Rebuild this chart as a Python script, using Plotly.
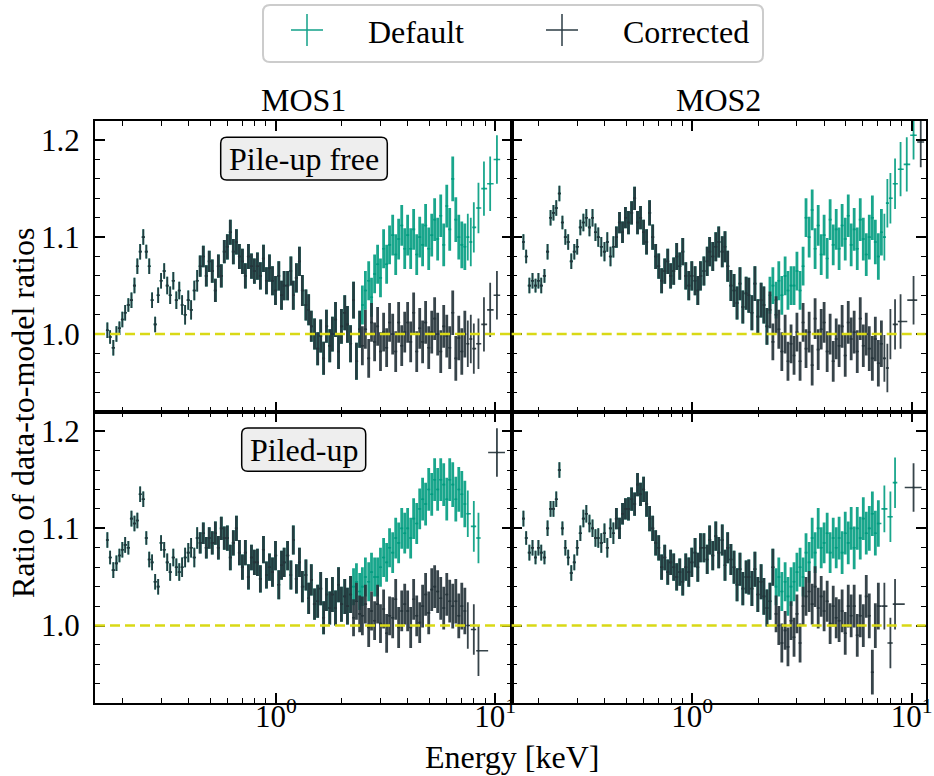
import plotly.graph_objects as go

# ---------------- data ----------------
energy_kev = [
    0.170, 0.175, 0.181, 0.187, 0.193,
    0.199, 0.205, 0.212, 0.219, 0.226,
    0.233, 0.240, 0.248, 0.256, 0.264,
    0.272, 0.281, 0.290, 0.299, 0.309,
    0.319, 0.329, 0.340, 0.351, 0.362,
    0.373, 0.385, 0.398, 0.410, 0.424,
    0.437, 0.451, 0.466, 0.481, 0.496,
    0.512, 0.529, 0.546, 0.563, 0.581,
    0.600, 0.619, 0.639, 0.660, 0.681,
    0.703, 0.725, 0.749, 0.773, 0.797,
    0.823, 0.849, 0.877, 0.905, 0.934,
    0.964, 0.995, 1.03, 1.06, 1.09,
    1.13, 1.17, 1.20, 1.24, 1.28,
    1.32, 1.37, 1.41, 1.45, 1.50,
    1.55, 1.60, 1.65, 1.70, 1.76,
    1.81, 1.87, 1.93, 1.99, 2.06,
    2.12, 2.19, 2.26, 2.33, 2.41,
    2.48, 2.56, 2.65, 2.73, 2.82,
    2.91, 3.00, 3.10, 3.20, 3.30,
    3.41, 3.52, 3.63, 3.75, 3.87,
    3.99, 4.12, 4.25, 4.39, 4.53,
    4.67, 4.82, 4.98, 5.14, 5.30,
    5.47, 5.65, 5.83, 6.02, 6.21,
    6.41, 6.62, 6.83, 7.05, 7.28,
    7.51, 7.75, 8.00, 8.40, 8.90,
    9.50, 10.2, 11.0,
]

ratio_err = [
    0.008, 0.007, 0.008, 0.008, 0.007,
    0.008, 0.008, 0.007, 0.008, 0.008,
    0.008, 0.008, 0.008, 0.007, 0.008,
    0.008, 0.008, 0.008, 0.008, 0.008,
    0.009, 0.009, 0.009, 0.009, 0.009,
    0.010, 0.010, 0.010, 0.010, 0.010,
    0.011, 0.011, 0.011, 0.011, 0.011,
    0.012, 0.012, 0.012, 0.012, 0.012,
    0.013, 0.013, 0.013, 0.013, 0.013,
    0.013, 0.013, 0.013, 0.013, 0.013,
    0.014, 0.014, 0.014, 0.014, 0.014,
    0.015, 0.015, 0.015, 0.015, 0.015,
    0.015, 0.015, 0.015, 0.015, 0.015,
    0.016, 0.016, 0.016, 0.016, 0.016,
    0.017, 0.017, 0.017, 0.017, 0.017,
    0.018, 0.018, 0.018, 0.018, 0.018,
    0.019, 0.019, 0.019, 0.019, 0.019,
    0.020, 0.020, 0.020, 0.020, 0.020,
    0.020, 0.020, 0.020, 0.020, 0.020,
    0.021, 0.021, 0.021, 0.021, 0.021,
    0.021, 0.021, 0.021, 0.021, 0.021,
    0.022, 0.022, 0.022, 0.022, 0.022,
    0.022, 0.022, 0.022, 0.022, 0.022,
    0.023, 0.023, 0.023, 0.024, 0.024,
    0.024, 0.025, 0.026, 0.026, 0.028,
    0.028, 0.025, 0.026,
]

# MOS1, pile-up free
mos1_free_corrected = [
    1.004, 0.997, 0.986, 1.000, 1.006,
    1.015, 1.022, 1.030, 1.035, 1.050,
    1.070, 1.085, 1.100, 1.085, 1.070,
    1.035, 1.010, 1.040, 1.055, 1.065,
    1.050, 1.040, 1.055, 1.035, 1.045,
    1.030, 1.020, 1.035, 1.025, 1.045,
    1.055, 1.070, 1.080, 1.060, 1.075,
    1.065, 1.045, 1.070, 1.060, 1.085,
    1.090, 1.105, 1.085, 1.095, 1.080,
    1.075, 1.060, 1.080, 1.070, 1.065,
    1.070, 1.060, 1.078, 1.055, 1.068,
    1.055, 1.045, 1.060, 1.040, 1.050,
    1.050, 1.065, 1.040, 1.058, 1.075,
    1.045, 1.030, 1.025, 1.008, 1.000,
    0.985, 0.998, 0.975, 1.008, 0.988,
    1.000, 1.015, 0.982, 1.008, 1.022,
    1.010, 0.990, 1.035, 0.972, 1.005,
    0.988, 1.005, 0.975, 1.012, 0.992,
    1.008, 0.982, 1.002, 0.986, 1.012,
    1.000, 0.982, 1.012, 0.988, 1.002,
    1.012, 0.992, 1.022, 0.982, 1.006,
    0.992, 1.012, 0.986, 1.002, 1.016,
    1.000, 0.982, 1.008, 0.998, 0.986,
    1.022, 0.975, 0.996, 0.982, 1.000,
    0.990, 0.995, 0.985, 0.990, 1.010,
    1.025, 1.040, None,
]
mos1_free_default_high = [  # from 2.48 keV upwards
    1.030, 1.045, 1.055, 1.038, 1.062,
    1.072, 1.058, 1.088, 1.072, 1.092,
    1.102, 1.082, 1.098, 1.112, 1.088,
    1.102, 1.088, 1.108, 1.082, 1.100,
    1.092, 1.112, 1.088, 1.102, 1.118,
    1.098, 1.122, 1.092, 1.132, 1.108,
    1.160, 1.118, 1.100, 1.092, 1.090,
    1.100, 1.095, 1.110, 1.130, 1.150,
    1.155, 1.180, None,
]

# MOS2, pile-up free
mos2_free_corrected = [
    1.095, 1.080, 1.050, 1.055, 1.050,
    1.055, 1.050, 1.060, 1.085, 1.120,
    1.125, 1.130, 1.145, 1.115, 1.100,
    1.095, 1.075, 1.085, 1.090, 1.110,
    1.115, 1.120, 1.110, 1.120, 1.105,
    1.100, 1.090, 1.085, 1.095, 1.080,
    1.090, 1.100, 1.115, 1.105, 1.120,
    1.115, 1.125, 1.140, 1.115, 1.120,
    1.105, 1.095, 1.125, 1.100, 1.080,
    1.070, 1.055, 1.065, 1.075, 1.060,
    1.065, 1.080, 1.070, 1.085, 1.060,
    1.050, 1.060, 1.055, 1.045, 1.060,
    1.065, 1.075, 1.085, 1.080, 1.090,
    1.095, 1.085, 1.090, 1.070, 1.050,
    1.045, 1.032, 1.052, 1.028, 1.042,
    1.040, 1.022, 1.052, 1.018, 1.035,
    1.030, 1.008, 1.025, 0.992, 1.020,
    1.005, 0.982, 1.000, 0.972, 0.990,
    0.978, 1.002, 0.972, 1.012, 0.985,
    1.002, 0.968, 1.016, 0.984, 1.005,
    1.012, 0.982, 1.000, 0.972, 0.995,
    0.988, 1.008, 0.978, 1.012, 0.995,
    1.002, 0.982, 1.016, 0.988, 1.000,
    0.985, 0.975, 0.995, 0.970, 0.990,
    0.975, 0.965, 1.000, 1.010, 1.013,
    None, 1.035, 1.198,
]
mos2_free_default_high = [  # from 2.26 keV upwards
    1.040, 1.050, 1.035,
    1.055, 1.040, 1.060, 1.045, 1.050,
    1.050, 1.065, 1.045, 1.070, 1.120,
    1.100, 1.128, 1.088, 1.112, 1.082,
    1.102, 1.078, 1.118, 1.092, 1.108,
    1.088, 1.112, 1.098, 1.122, 1.092,
    1.108, 1.088, 1.118, 1.098, 1.082,
    1.100, 1.120, 1.095, 1.080, 1.105,
    1.100, 1.135, 1.140, 1.155, 1.170,
    1.175, 1.205, None,
]

# MOS1, piled-up
mos1_piled_corrected = [
    1.088, 1.070, 1.057, 1.064, 1.072,
    1.078, 1.083, 1.080, 1.110, 1.105,
    1.108, 1.135, 1.130, 1.090, 1.068,
    1.065, 1.045, 1.040, 1.085, 1.078,
    1.065, 1.055, 1.070, 1.060, 1.055,
    1.060, 1.070, 1.075, 1.080, 1.070,
    1.090, 1.085, 1.095, 1.080, 1.090,
    1.085, 1.095, 1.080, 1.100, 1.090,
    1.090, 1.070, 1.085, 1.100, 1.075,
    1.060, 1.075, 1.050, 1.070, 1.065,
    1.065, 1.048, 1.078, 1.052, 1.060,
    1.055, 1.072, 1.042, 1.062, 1.065,
    1.072, 1.052, 1.088, 1.048, 1.065,
    1.040, 1.052, 1.028, 1.047, 1.022,
    1.025, 1.038, 1.008, 1.032, 1.018,
    1.032, 1.018, 1.042, 1.022, 1.030,
    1.020, 1.032, 1.008, 1.025, 1.012,
    1.010, 1.022, 0.998, 1.015, 1.005,
    1.022, 1.002, 1.017, 0.992, 1.010,
    1.008, 1.027, 0.998, 1.015, 1.022,
    1.015, 0.998, 1.027, 1.010, 1.003,
    1.020, 1.032, 1.013, 1.037, 1.040,
    1.035, 1.028, 1.018, 1.032, 1.025,
    1.020, 1.025, 1.010, 1.020, 1.015,
    1.000, None, 0.996, 0.974, None,
    None, 1.178, None,
]
mos1_piled_default_high = [  # from 2.26 keV upwards
    1.040, 1.045, 1.035,
    1.040, 1.050, 1.045, 1.055, 1.050,
    1.050, 1.060, 1.070, 1.065, 1.080,
    1.075, 1.090, 1.085, 1.100, 1.095,
    1.100, 1.090, 1.110, 1.105, 1.120,
    1.130, 1.125, 1.140, 1.135, 1.150,
    1.140, 1.150, 1.145, 1.130, 1.150,
    1.145, 1.130, 1.140, 1.135, 1.125,
    1.115, None, 1.102, 1.090, None,
    None, None, None,
]

# MOS2, piled-up
mos2_piled_corrected = [
    1.110, 1.090, 1.075, 1.080, 1.070,
    1.080, 1.075, 1.070, 1.100, 1.120,
    1.120, 1.130, 1.160, 1.100, 1.080,
    1.070, 1.054, 1.065, 1.080, 1.095,
    1.110, 1.115, 1.105, 1.100, 1.090,
    1.090, 1.085, 1.095, 1.080, 1.100,
    1.095, 1.110, 1.100, 1.115, 1.120,
    1.120, 1.130, 1.125, 1.145, 1.135,
    1.140, 1.125, 1.110, 1.100, 1.085,
    1.080, 1.060, 1.070, 1.055, 1.065,
    1.060, 1.050, 1.055, 1.045, 1.060,
    1.055, 1.065, 1.075, 1.060, 1.080,
    1.080, 1.068, 1.088, 1.072, 1.092,
    1.075, 1.088, 1.062, 1.080, 1.068,
    1.060, 1.042, 1.058, 1.038, 1.050,
    1.050, 1.038, 1.058, 1.032, 1.045,
    1.030, 1.018, 1.025, 1.060, 1.012,
    1.000, 0.982, 0.995, 0.978, 1.005,
    0.988, 1.012, 0.982, 1.020, 1.030,
    1.035, 1.022, 1.040, 1.018, 1.030,
    1.015, 1.025, 1.002, 1.020, 1.008,
    1.005, 1.015, 0.992, 1.020, 1.010,
    1.020, 0.990, 1.010, 1.000, 1.030,
    1.010, 0.952, 1.000, 1.020, None,
    1.020, None, 0.982, 1.022, None,
    None, 1.142, None,
]
mos2_piled_default_high = [  # from 2.33 keV upwards
    1.060, 1.040,
    1.050, 1.035, 1.045, 1.030, 1.040,
    1.045, 1.055, 1.060, 1.050, 1.075,
    1.065, 1.090, 1.075, 1.100, 1.080,
    1.085, 1.095, 1.075, 1.090, 1.080,
    1.090, 1.075, 1.095, 1.085, 1.100,
    1.080, 1.100, 1.090, 1.110, 1.095,
    1.100, 1.115, 1.095, 1.105, None,
    1.120, None, 1.112, 1.147, None,
    None, None, None,
]

# below the split energy the default and corrected ratios coincide
mos1_free_default = mos1_free_corrected[:len(energy_kev) - len(mos1_free_default_high)] + mos1_free_default_high
mos2_free_default = mos2_free_corrected[:len(energy_kev) - len(mos2_free_default_high)] + mos2_free_default_high
mos1_piled_default = mos1_piled_corrected[:len(energy_kev) - len(mos1_piled_default_high)] + mos1_piled_default_high
mos2_piled_default = mos2_piled_corrected[:len(energy_kev) - len(mos2_piled_default_high)] + mos2_piled_default_high

column_titles = ["MOS1", "MOS2"]
row_labels = ["Pile-up free", "Piled-up"]
series_names = ["Default", "Corrected"]

# ---------------- styling ----------------
W, H = 934, 776
FONT = "Liberation Serif, Times New Roman, serif"
TEAL = "rgba(0,156,128,0.9)"
DARK = "rgba(38,52,59,0.92)"
TEAL_SOLID = "#12a088"
DARK_SOLID = "#2c3d45"
YELLOW = "#d9d916"
# bar thickness by energy band (dense middle band drawn with heavier strokes)
BANDS = [(0.0, 0.45, 1.8), (0.45, 7.4, 2.8), (7.4, 100.0, 1.8)]


def X(v):
    return v / W


def Y(v):
    return 1 - v / H


def valid_series(vals):
    idx = [i for i, v in enumerate(vals) if v is not None]
    xs = [energy_kev[i] for i in idx]
    ys = [vals[i] for i in idx]
    es = [ratio_err[i] for i in idx]
    xm, xp = [], []
    for k in range(len(xs)):
        left = (xs[k] - xs[k - 1]) / 2 if k > 0 else None
        right = (xs[k + 1] - xs[k]) / 2 if k < len(xs) - 1 else None
        if left is None:
            left = right
        if right is None:
            right = left
        xm.append(left)
        xp.append(right)
    return xs, ys, es, xm, xp


fig = go.Figure()

panels = [
    ("x", "y", mos1_free_default, mos1_free_corrected),
    ("x2", "y2", mos2_free_default, mos2_free_corrected),
    ("x3", "y3", mos1_piled_default, mos1_piled_corrected),
    ("x4", "y4", mos2_piled_default, mos2_piled_corrected),
]
for xa, ya, dflt, corr in panels:
    for vals, color, name in [(dflt, TEAL, series_names[0]), (corr, DARK, series_names[1])]:
        xs, ys, es, xm, xp = valid_series(vals)
        for lo, hi, thick in BANDS:
            sel = [k for k, e in enumerate(xs) if lo <= e < hi]
            if not sel:
                continue
            fig.add_trace(go.Scatter(
                x=[xs[k] for k in sel], y=[ys[k] for k in sel], mode="markers", name=name,
                showlegend=False, marker=dict(size=2, color=color),
                error_y=dict(type="data", array=[es[k] for k in sel], color=color,
                             thickness=thick, width=0),
                error_x=dict(type="data", array=[xp[k] for k in sel], arrayminus=[xm[k] for k in sel],
                             color=color, thickness=1.6, width=0),
                xaxis=xa, yaxis=ya, hoverinfo="x+y",
            ))

minor_x = [0.2, 0.3, 0.4, 0.5, 0.6, 0.7, 0.8, 0.9, 2, 3, 4, 5, 6, 7, 8, 9]
minor_y = [0.94, 0.96, 0.98, 1.02, 1.04, 1.06, 1.08, 1.12, 1.14, 1.16, 1.18]
tickfont = dict(family=FONT, size=31, color="black")


def xaxis(domain, rng, anchor, labels):
    return dict(
        type="log", domain=domain, range=rng, anchor=anchor, automargin=False,
        showline=True, linecolor="black", linewidth=2, mirror="allticks",
        ticks="inside", ticklen=10, tickwidth=1.5, tickcolor="black",
        tickmode="array", tickvals=[1, 10], ticktext=["10<sup>0</sup>", "10<sup>1</sup>"],
        ticklabelstandoff=-16,
        showticklabels=labels, showgrid=False, zeroline=False, tickfont=tickfont,
        minor=dict(ticks="inside", ticklen=5, tickwidth=1.2, tickcolor="black",
                   tickmode="array", tickvals=minor_x, showgrid=False),
    )


def yaxis(domain, anchor, labels):
    return dict(
        domain=domain, range=[0.92, 1.22], anchor=anchor, automargin=False,
        showline=True, linecolor="black", linewidth=2, mirror="allticks",
        ticks="inside", ticklen=10, tickwidth=1.5, tickcolor="black",
        tickmode="array", tickvals=[1.0, 1.1, 1.2], ticktext=["1.0", "1.1", "1.2"],
        ticklabelstandoff=7,
        showticklabels=labels, showgrid=False, zeroline=False, tickfont=tickfont,
        minor=dict(ticks="inside", ticklen=5, tickwidth=1.2, tickcolor="black",
                   tickmode="array", tickvals=minor_y, showgrid=False),
    )


XL = [-0.826, 1.076]
XR = [-0.823, 1.064]
dom_left = [X(95), X(511.7)]
dom_right = [X(511.7), X(925.7)]
dom_top = [Y(411.7), Y(120.7)]
dom_bot = [Y(703.3), Y(411.7)]

fig.update_layout(
    template="none",
    width=W, height=H,
    margin=dict(l=0, r=0, t=0, b=0, pad=0),
    paper_bgcolor="white", plot_bgcolor="white",
    showlegend=False,
    font=dict(family=FONT, size=32, color="black"),
    xaxis=xaxis(dom_left, XL, "y", False),
    yaxis=yaxis(dom_top, "x", True),
    xaxis2=xaxis(dom_right, XR, "y2", False),
    yaxis2=yaxis(dom_top, "x2", False),
    xaxis3=xaxis(dom_left, XL, "y3", True),
    yaxis3=yaxis(dom_bot, "x3", True),
    xaxis4=xaxis(dom_right, XR, "y4", True),
    yaxis4=yaxis(dom_bot, "x4", False),
)

# dashed unity lines
for xa, ya, _, _ in panels:
    fig.add_shape(type="line", xref=f"{xa} domain", yref=ya, x0=0, x1=1, y0=1.0, y1=1.0,
                  line=dict(color=YELLOW, width=2.5, dash="10px,5px"), layer="above")


def rounded_rect(x0, y0, x1, y1, r):
    return (f"M {X(x0 + r)},{Y(y0)} L {X(x1 - r)},{Y(y0)} Q {X(x1)},{Y(y0)} {X(x1)},{Y(y0 + r)} "
            f"L {X(x1)},{Y(y1 - r)} Q {X(x1)},{Y(y1)} {X(x1 - r)},{Y(y1)} "
            f"L {X(x0 + r)},{Y(y1)} Q {X(x0)},{Y(y1)} {X(x0)},{Y(y1 - r)} "
            f"L {X(x0)},{Y(y0 + r)} Q {X(x0)},{Y(y0)} {X(x0 + r)},{Y(y0)} Z")


# row label boxes
for (bx0, by0, bx1, by1), label in zip([(220.7, 137.3, 387.3, 180.0), (241.7, 428.0, 365.7, 471.3)], row_labels):
    fig.add_shape(type="path", xref="paper", yref="paper", path=rounded_rect(bx0, by0, bx1, by1, 6),
                  fillcolor="#eeeeee", line=dict(color="black", width=1.5), layer="above")
    fig.add_annotation(x=X((bx0 + bx1) / 2), y=Y((by0 + by1) / 2 + 0.5), xref="paper", yref="paper",
                       text=label, showarrow=False, xanchor="center", yanchor="middle",
                       font=dict(family=FONT, size=32, color="black"))

# column titles
for cx, title in zip([303.4, 718.7], column_titles):
    fig.add_annotation(x=X(cx), y=Y(99.6), xref="paper", yref="paper", text=title, showarrow=False,
                       xanchor="center", yanchor="middle", font=dict(family=FONT, size=32, color="black"))

# axis titles
fig.add_annotation(x=X(511.7), y=Y(757), xref="paper", yref="paper", text="Energy [keV]", showarrow=False,
                   xanchor="center", yanchor="middle", font=dict(family=FONT, size=32, color="black"))
fig.add_annotation(x=X(22.6), y=Y(412.5), xref="paper", yref="paper", text="Ratio of data-to-model ratios",
                   showarrow=False, textangle=-90, xanchor="center", yanchor="middle",
                   font=dict(family=FONT, size=32, color="black"))

# legend (drawn manually to match the reference's large cross symbols)
fig.add_shape(type="path", xref="paper", yref="paper", path=rounded_rect(263, 5, 763, 62, 7),
              fillcolor="white", line=dict(color="#cccccc", width=2), layer="above")
for cx, color, label, tx in [(307, TEAL_SOLID, series_names[0], 365.7), (562, DARK_SOLID, series_names[1], 621)]:
    fig.add_shape(type="line", xref="paper", yref="paper", x0=X(cx - 16), x1=X(cx + 16), y0=Y(30), y1=Y(30),
                  line=dict(color=color, width=1.5), layer="above")
    fig.add_shape(type="line", xref="paper", yref="paper", x0=X(cx), x1=X(cx), y0=Y(14), y1=Y(46),
                  line=dict(color=color, width=1.5), layer="above")
    fig.add_annotation(x=X(tx), y=Y(32.5), xref="paper", yref="paper", text=label, showarrow=False,
                       xanchor="left", yanchor="middle", font=dict(family=FONT, size=32, color="black"))

fig.write_html("out.html")
